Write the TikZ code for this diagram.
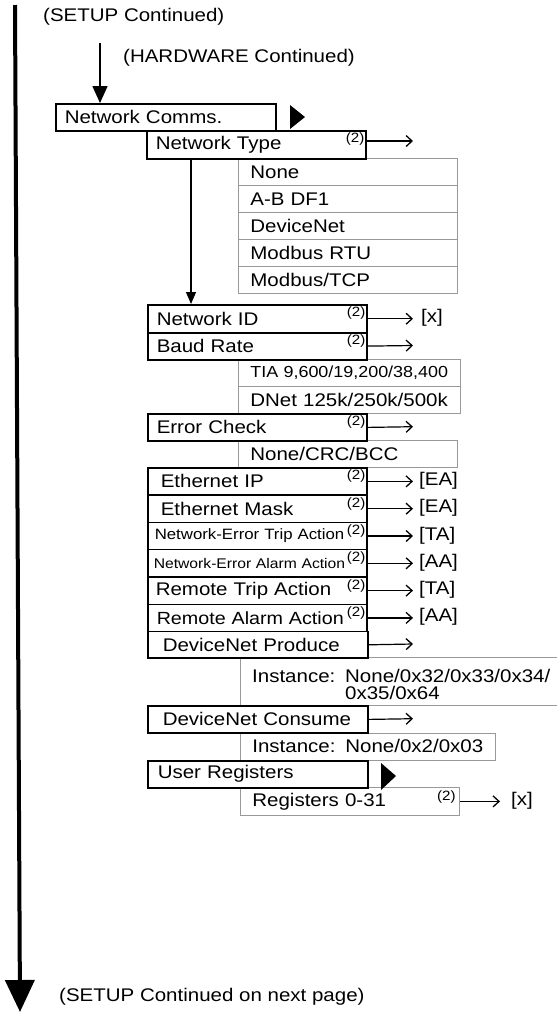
\documentclass[tikz,border=0pt]{standalone}
\usepackage{fontspec}
\setmainfont[FakeStretch=1.12]{Liberation Sans}
\usetikzlibrary{arrows.meta}
\newcommand\fsN{\fontsize{18.3}{20}\selectfont}
\newcommand\fsS{\fontsize{15}{17}\selectfont}
\newcommand\fsT{\fontsize{14}{16}\selectfont}
\newcommand\fsU{\fontsize{13.5}{14}\selectfont}
\newcommand\fsI{\fontsize{18.3}{17}\selectfont}
\newcommand\fsR{\fontsize{16}{18}\selectfont}
\newcommand\fsM{\fontsize{17.6}{19}\selectfont}
\begin{document}
\begin{tikzpicture}[x=1pt,y=-1pt, font=\fsN,
 mbox/.style={draw=black, line width=1.5pt, anchor=north west, minimum height=27.3pt, inner ysep=0pt, inner xsep=9pt, text width=201pt, align=left},
 obox/.style={draw=black!40, line width=0.8pt, anchor=north west, minimum height=27pt, inner ysep=0pt, inner xsep=12pt, text width=195pt, align=left},
 sup/.style={font=\fsU, anchor=north east, inner sep=0pt},
 oarr/.style={line width=1.2pt, -{Straight Barb[length=6pt,width=11pt,line width=1.3pt]}},
 lab/.style={anchor=west, inner sep=0pt},
 tri/.style={fill=black}
]
\useasboundingbox (0,0) rectangle (557,1013);

% texts
\node[lab] (setup) at (43,17) {(SETUP Continued)};
\node[lab] (hw) at (123,58) {(HARDWARE Continued)};
\node[lab] (next) at (59,997) {(SETUP Continued on next page)};

% main arrow
\coordinate (mtop) at (15,5);
\coordinate (mbot) at (20,1012);
\draw[line width=4pt, -{Triangle[length=32pt,width=29pt]}] (mtop) -- (mbot);

% option boxes (drawn first)
\node[obox] (o1) at (238,158) {None};
\node[obox] (o2) at (238,185) {A-B DF1};
\node[obox] (o3) at (238,212) {DeviceNet};
\node[obox] (o4) at (238,239) {Modbus RTU};
\node[obox] (o5) at (238,266) {Modbus/TCP};
\node[obox, inner xsep=12pt, text width=198pt, font=\fsR] (b1) at (238,359) {\mbox{TIA 9,600/19,200/38,400}};
\node[obox, inner xsep=12pt, text width=198pt] (b2) at (238,386) {DNet 125k/250k/500k};
\node[obox] (e1) at (238,440) {None/CRC/BCC};
\node[obox, text width=296pt, minimum height=48pt] (pinst) at (240,657) {};
\node[lab, font=\fsI, align=left] (pinstt) at (252,684) {\makebox[93pt][l]{Instance:}None/0x32/0x33/0x34/\\\hspace*{93pt}0x35/0x64};
\node[obox, text width=231pt] (cinst) at (240,732.5) {\makebox[93pt][l]{Instance:}None/0x2/0x03};
\node[obox, minimum height=28pt] (regs) at (240,787) {Registers 0-31};

% main boxes
\node[mbox, text width=202pt, minimum height=27pt] (comms) at (55,103) {Network Comms.};
\node[mbox, minimum height=28pt] (ntype) at (146,130) {Network Type};
\node[mbox, minimum height=28pt] (nid) at (147,304) {Network ID};
\node[mbox] (baud) at (147,331.7) {Baud Rate};
\node[mbox] (errchk) at (147,413) {Error Check};
\node[mbox, inner xsep=13pt, text width=193pt] (ethip) at (147,467) {Ethernet IP};
\node[mbox, inner xsep=13pt, text width=193pt] (ethmask) at (147,494.3) {Ethernet Mask};
\node[mbox, inner xsep=7pt, text width=205pt, font=\fsS] (netrip) at (147,521.6) {Network-Error Trip Action};
\node[mbox, inner xsep=6pt, text width=207pt, font=\fsT] (nealarm) at (147,548.9) {Network-Error Alarm Action};
\node[mbox, inner xsep=8pt, text width=203pt] (remtrip) at (147,576.2) {Remote Trip Action};
\node[mbox, inner xsep=9pt, text width=201pt, font=\fsM] (remalarm) at (147,603.5) {Remote Alarm Action};
\node[mbox, inner xsep=15pt, text width=190pt, minimum height=26.5pt] (dnprod) at (147,630.8) {DeviceNet Produce};
\node[mbox, inner xsep=15pt, text width=190pt] (dncons) at (147,705) {DeviceNet Consume};
\node[mbox, inner xsep=10pt, text width=200pt, minimum height=27pt] (ureg) at (147,760) {User Registers};

% triangles
\fill[tri] (290,105) -- (305,117) -- (290,129) -- cycle;
\fill[tri] (381,763) -- (396,776) -- (381,790) -- cycle;

% superscripts
\foreach \b in {ntype,nid,baud,errchk,ethip,ethmask,netrip,nealarm,remtrip,remalarm}
  \node[sup] (s-\b) at ([xshift=-2pt,yshift=-3pt]\b.north east) {(2)};
\node[sup] (s-regs) at ([xshift=-4pt,yshift=-4pt]regs.north east) {(2)};

% small arrows
\coordinate (hwa) at (100,43);
\draw[line width=1.6pt, -{Triangle[length=17pt,width=15pt]}] (hwa) -- (hwa |- comms.north);
\draw[line width=1.2pt, -{Triangle[length=12pt,width=10pt]}] ([xshift=45pt]ntype.south west) coordinate (va) -- (va |- nid.north);

% right arrows without labels
\coordinate (t1) at (413,141);
\draw[oarr] (t1 -| ntype.east) -- (t1);
\coordinate (t2) at (413,345.5);
\draw[oarr] (baud.east) -- (t2);
\coordinate (t3) at (413,426.7);
\draw[oarr] (errchk.east) -- (t3);
\coordinate (t4) at (413,644);
\draw[oarr] (dnprod.east) -- (t4);
\coordinate (t5) at (413,718.7);
\draw[oarr] (dncons.east) -- (t5);

% right arrows with labels
\node[lab] (l1) at (421,318) {[x]};
\node[lab] (l2) at (419,480.7) {[EA]};
\node[lab] (l3) at (419,508) {[EA]};
\node[lab] (l4) at (419,535.3) {[TA]};
\node[lab] (l5) at (419,562.6) {[AA]};
\node[lab] (l6) at (419,589.9) {[TA]};
\node[lab] (l7) at (419,617.2) {[AA]};
\node[lab] (l8) at (511,801) {[x]};
\draw[oarr, shorten >=8pt] (nid.east) -- (nid.east -| l1.west);
\draw[oarr, shorten >=6pt] (ethip.east) -- (ethip.east -| l2.west);
\draw[oarr, shorten >=6pt] (ethmask.east) -- (ethmask.east -| l3.west);
\draw[oarr, shorten >=6pt] (netrip.east) -- (netrip.east -| l4.west);
\draw[oarr, shorten >=6pt] (nealarm.east) -- (nealarm.east -| l5.west);
\draw[oarr, shorten >=6pt] (remtrip.east) -- (remtrip.east -| l6.west);
\draw[oarr, shorten >=6pt] (remalarm.east) -- (remalarm.east -| l7.west);
\draw[oarr, shorten >=11pt] (regs.east) -- (regs.east -| l8.west);
\end{tikzpicture}
\end{document}
